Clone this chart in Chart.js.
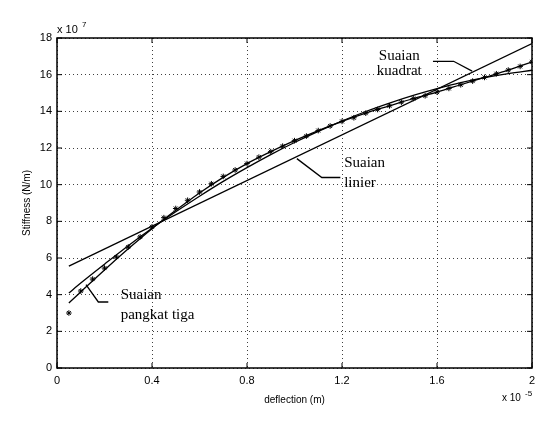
<!DOCTYPE html>
<html>
<head>
<meta charset="utf-8">
<script src="https://cdn.jsdelivr.net/npm/chart.js@4"></script>
<style>
  html, body { margin: 0; padding: 0; background: #fff; }
  canvas { display: block; }
</style>
</head>
<body>
<canvas id="chart" width="552" height="423"></canvas>
<script>
// deflection (x 1e-5 m) and measured stiffness (x 1e7 N/m)
const deflection = [0.05, 0.10, 0.15, 0.20, 0.25, 0.30, 0.35, 0.40, 0.45, 0.50,
                    0.55, 0.60, 0.65, 0.70, 0.75, 0.80, 0.85, 0.90, 0.95, 1.00,
                    1.05, 1.10, 1.15, 1.20, 1.25, 1.30, 1.35, 1.40, 1.45, 1.50,
                    1.55, 1.60, 1.65, 1.70, 1.75, 1.80, 1.85, 1.90, 1.95, 2.00];
const stiffness  = [3.0, 4.2, 4.85, 5.45, 6.05, 6.6, 7.15, 7.7, 8.2, 8.7,
                    9.15, 9.6, 10.05, 10.45, 10.8, 11.15, 11.5, 11.8, 12.1, 12.4,
                    12.65, 12.95, 13.2, 13.45, 13.65, 13.9, 14.1, 14.3, 14.5, 14.7,
                    14.85, 15.05, 15.25, 15.45, 15.65, 15.85, 16.05, 16.25, 16.45, 16.7];

// fitted curves
const fitX      = [0.05, 0.1, 0.2, 0.3, 0.4, 0.5, 0.6, 0.7, 0.8, 0.9, 1.0,
                   1.1, 1.2, 1.3, 1.4, 1.5, 1.6, 1.7, 1.8, 1.9, 2.0];
const cubicFit  = [3.55, 4.15, 5.35, 6.5, 7.6, 8.6, 9.55, 10.4, 11.15, 11.8, 12.4,
                   12.95, 13.45, 13.9, 14.3, 14.7, 15.05, 15.45, 15.85, 16.25, 16.7];
const quadFit   = [4.09, 4.63, 5.66, 6.67, 7.62, 8.52, 9.37, 10.18, 10.93, 11.64, 12.3,
                   12.91, 13.47, 13.99, 14.45, 14.87, 15.24, 15.57, 15.84, 16.06, 16.24];
const linearX   = [0.05, 2.0];
const linearFit = [5.56, 17.7];

const xTicks = [0, 0.4, 0.8, 1.2, 1.6, 2];

// callout labels (data coordinates)
const notes = [
  { lines: ['Suaian', 'kuadrat'], at: [[1.441, 17.03], [1.441, 16.19]], align: 'center',
    leader: [[1.583, 16.73], [1.670, 16.73], [1.748, 16.19]] },
  { lines: ['Suaian', 'linier'], at: [[1.209, 11.17], [1.209, 10.08]], align: 'left',
    leader: [[1.010, 11.42], [1.115, 10.39], [1.193, 10.39]] },
  { lines: ['Suaian', 'pangkat tiga'], at: [[0.268, 3.97], [0.268, 2.87]], align: 'left',
    leader: [[0.122, 4.55], [0.174, 3.60], [0.216, 3.60]] }
];

const pts = (xs, ys) => xs.map((x, i) => ({ x: x, y: ys[i] }));

const framePlugin = {
  id: 'frame',
  afterDraw(chart) {
    const { ctx, chartArea: a, scales: { x, y } } = chart;
    ctx.save();
    ctx.strokeStyle = '#000';
    ctx.lineWidth = 1.5;
    ctx.strokeRect(a.left, a.top, a.right - a.left, a.bottom - a.top);

    // inward tick marks on all four sides
    ctx.lineWidth = 1;
    ctx.beginPath();
    x.ticks.forEach(t => {
      const px = x.getPixelForValue(t.value);
      ctx.moveTo(px, a.bottom); ctx.lineTo(px, a.bottom - 5);
      ctx.moveTo(px, a.top); ctx.lineTo(px, a.top + 5);
    });
    y.ticks.forEach(t => {
      const py = y.getPixelForValue(t.value);
      ctx.moveTo(a.left, py); ctx.lineTo(a.left + 5, py);
      ctx.moveTo(a.right, py); ctx.lineTo(a.right - 5, py);
    });
    ctx.stroke();

    // exponent labels
    ctx.fillStyle = '#000';
    ctx.textBaseline = 'alphabetic';
    ctx.textAlign = 'left';
    ctx.font = '11px "Liberation Sans", Arial, sans-serif';
    ctx.fillText('x 10', a.left, a.top - 5);
    ctx.font = '8px "Liberation Sans", Arial, sans-serif';
    ctx.fillText('7', a.left + 25, a.top - 11);
    ctx.font = '10px "Liberation Sans", Arial, sans-serif';
    ctx.fillText('x 10', a.right - 30, a.bottom + 33);
    ctx.font = '8px "Liberation Sans", Arial, sans-serif';
    ctx.fillText('-5', a.right - 7, a.bottom + 28);

    // callouts
    ctx.font = '15px "Liberation Serif", "Times New Roman", serif';
    ctx.textBaseline = 'middle';
    ctx.lineWidth = 1.3;
    notes.forEach(n => {
      ctx.textAlign = n.align;
      n.lines.forEach((txt, i) => {
        ctx.fillText(txt, x.getPixelForValue(n.at[i][0]), y.getPixelForValue(n.at[i][1]));
      });
      ctx.beginPath();
      n.leader.forEach((p, i) => {
        const px = x.getPixelForValue(p[0]), py = y.getPixelForValue(p[1]);
        if (i === 0) ctx.moveTo(px, py); else ctx.lineTo(px, py);
      });
      ctx.stroke();
    });
    ctx.restore();
  }
};

const tickFont = { family: '"Liberation Sans", Arial, sans-serif', size: 11 };
const titleFont = { family: '"Liberation Sans", Arial, sans-serif', size: 10 };

new Chart(document.getElementById('chart'), {
  type: 'scatter',
  data: {
    datasets: [
      { label: 'data', data: pts(deflection, stiffness), showLine: false,
        pointStyle: 'star', pointRadius: 2.8, borderColor: '#000', borderWidth: 1, backgroundColor: '#000' },
      { label: 'pangkat tiga', data: pts(fitX, cubicFit), showLine: true, pointRadius: 0,
        borderColor: '#000', borderWidth: 1.3, cubicInterpolationMode: 'monotone' },
      { label: 'kuadrat', data: pts(fitX, quadFit), showLine: true, pointRadius: 0,
        borderColor: '#000', borderWidth: 1.3, cubicInterpolationMode: 'monotone' },
      { label: 'linier', data: pts(linearX, linearFit), showLine: true, pointRadius: 0,
        borderColor: '#000', borderWidth: 1.3 }
    ]
  },
  options: {
    responsive: false,
    animation: false,
    events: [],
    layout: { padding: { top: 38, right: 20, bottom: 0, left: 0 } },
    plugins: { legend: { display: false }, tooltip: { enabled: false } },
    scales: {
      x: {
        type: 'linear', min: 0, max: 2,
        afterFit: s => { s.height = 55; },
        afterBuildTicks: s => { s.ticks = xTicks.map(v => ({ value: v })); },
        grid: { color: 'rgba(0,0,0,0.75)', lineWidth: 1, drawTicks: false },
        border: { display: false, dash: [1, 3] },
        ticks: { color: '#000', font: tickFont, padding: 6, maxRotation: 0,
                 callback: v => String(Number(v.toFixed(1))) },
        title: { display: true, text: 'deflection (m)', color: '#000', font: titleFont,
                 padding: { top: 0, bottom: 17 } }
      },
      y: {
        type: 'linear', min: 0, max: 18,
        afterFit: s => { s.width = 57; },
        grid: { color: 'rgba(0,0,0,0.75)', lineWidth: 1, drawTicks: false },
        border: { display: false, dash: [1, 3] },
        ticks: { color: '#000', font: tickFont, padding: 5, stepSize: 2 },
        title: { display: true, text: 'Stiffness (N/m)', color: '#000', font: titleFont,
                 padding: { top: 21, bottom: 0 } }
      }
    }
  },
  plugins: [framePlugin]
});
</script>
</body>
</html>
